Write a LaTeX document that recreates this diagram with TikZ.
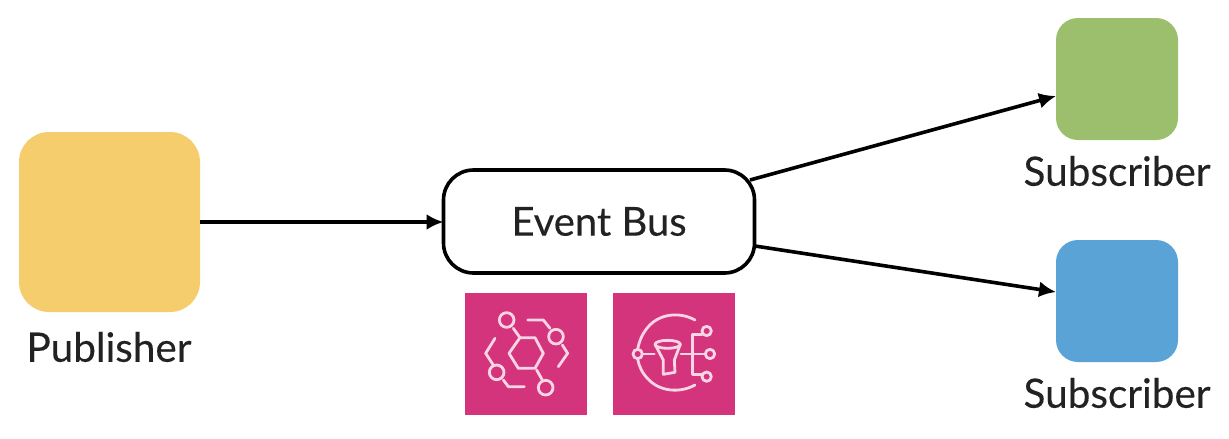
\documentclass[tikz,border=0pt]{standalone}
\usepackage{fontspec}
\setmainfont[FakeBold=0.25]{Lato}
\usetikzlibrary{arrows.meta}
\definecolor{pubc}{HTML}{F5CD6C}
\definecolor{subg}{HTML}{9BBF6C}
\definecolor{subb}{HTML}{59A3D6}
\definecolor{pinkc}{HTML}{D3347C}
\definecolor{iconl}{HTML}{F9D5E5}
\definecolor{inkc}{HTML}{222222}
\tikzset{
  x=1pt,y=-1pt,
  tile/.style={inner sep=0pt,outer sep=0pt,rounded corners=#1},
  lbl/.style={font=\fontsize{40.5}{44}\selectfont,text=inkc,inner sep=0pt},
  conn/.style={line width=3.6pt,black,-{Latex[length=17pt,width=16pt]}},
  icon/.style={draw=iconl,line width=2.8pt,line join=round,line cap=round,fill=none},
  iconbg/.style={fill=pinkc,draw=none,minimum width=122pt,minimum height=122pt,inner sep=0pt,outer sep=0pt},
}
\begin{document}
\begin{tikzpicture}
\useasboundingbox (0,0) rectangle (1229,439);
\fill[white] (0,0) rectangle (1229,439);
% boxes
\node[tile=30pt,fill=pubc,minimum width=181pt,minimum height=180pt] (pub) at (109.5,222) {};
\node[tile=22pt,fill=subg,minimum width=122pt,minimum height=122pt] (subA) at (1117,79) {};
\node[tile=22pt,fill=subb,minimum width=122pt,minimum height=122pt] (subB) at (1117,301) {};
\node[tile=30pt,draw=black,line width=3.6pt,fill=white,minimum width=311pt,minimum height=103pt,font=\fontsize{40}{44}\selectfont,text=inkc] (bus) at (599,221.5) {Event Bus};
% labels
\node[lbl] (lpub) at (109,347) {Publisher};
\node[lbl] (lsubA) at (1117,171) {Subscriber};
\node[lbl] (lsubB) at (1117,393) {Subscriber};
% connector ends
\coordinate (busA) at (750,180);
\coordinate (busB) at (755,246);
\coordinate (inA) at (1056,96);
\coordinate (inB) at (1056,292);
\draw[conn] (pub.east) -- (pub.east -| bus.west);
\draw[conn] (busA) -- (inA);
\draw[conn] (busB) -- (inB);
% icon 1
\node[iconbg] (ic1) at (525.5,353.5) {};
\begin{scope}[shift={(455,285)},x=0.3333pt,y=-0.3333pt]
\draw[icon] (195,158) -- (240,158) -- (265,205) -- (240,250) -- (190,250) -- (162,205) -- cycle;
\draw[icon] (155,105) circle (22);
\draw[icon] (175,130) -- (195,158);
\draw[icon] (272,308) circle (22);
\draw[icon] (245,255) -- (262,285);
\draw[icon] (218,105) -- (265,105) -- (285,130);
\draw[icon] (303,155) circle (22);
\draw[icon] (322,180) -- (338,205) -- (310,245);
\draw[icon] (120,160) -- (92,205) -- (115,240);
\draw[icon] (125,262) circle (22);
\draw[icon] (145,285) -- (160,305) -- (208,305);
\end{scope}
% icon 2
\node[iconbg] (ic2) at (673.5,353.5) {};
\begin{scope}[shift={(605,285)},x=0.3333pt,y=-0.3333pt]
\draw[icon] (270,105) .. controls (225,80) and (165,85) .. (130,125) .. controls (112,145) and (102,170) .. (98,193);
\draw[icon] (98,221) .. controls (102,245) and (112,265) .. (130,283) .. controls (165,320) and (225,325) .. (270,300);
\draw[icon] (98,207) circle (14);
\draw[icon] (112,207) -- (148,207);
\draw[icon] (188,178) ellipse (38 and 12);
\draw[icon] (150,178) -- (175,225) -- (175,268) -- (210,262) -- (208,225) -- (226,178);
\draw[icon] (228,207) -- (300,207);
\draw[icon] (315,207) circle (14);
\draw[icon] (290,148) -- (262,148) -- (262,268) -- (290,268);
\draw[icon] (305,138) circle (14);
\draw[icon] (305,275) circle (14);
\end{scope}
\end{tikzpicture}
\end{document}
